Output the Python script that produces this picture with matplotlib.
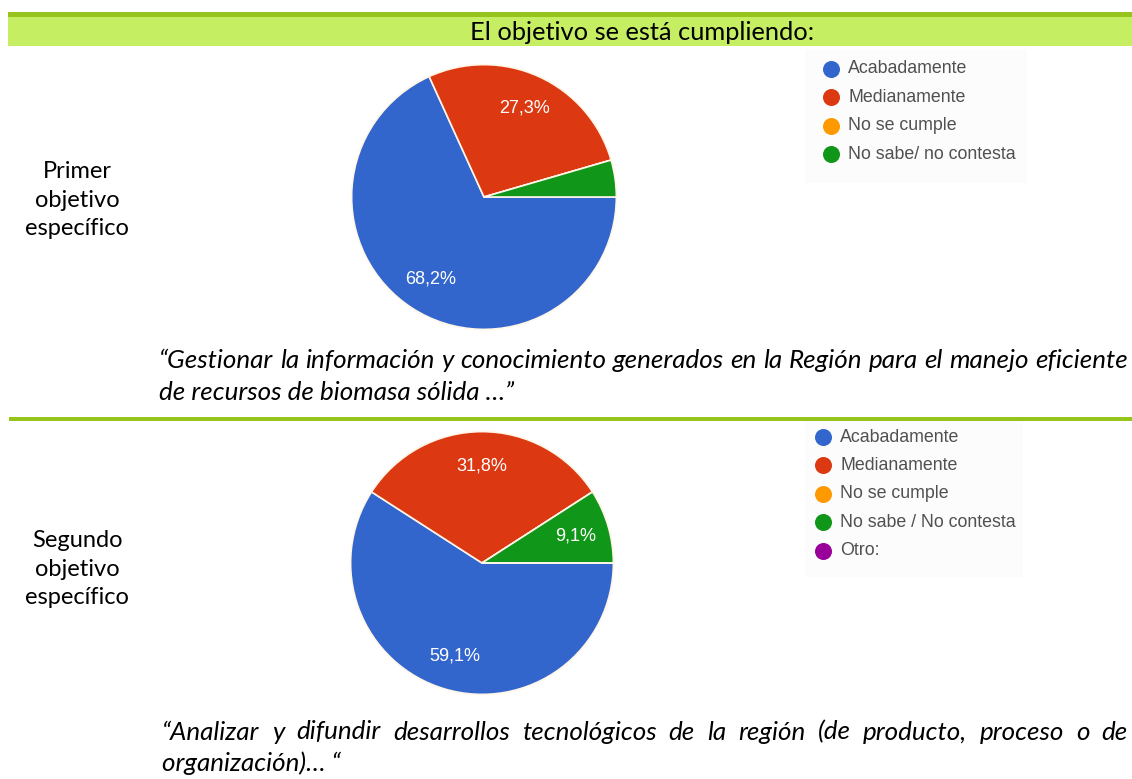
import matplotlib
matplotlib.use("Agg")
import matplotlib.pyplot as plt
from matplotlib.patches import Rectangle

# ---------------- data ----------------
header_text = "El objetivo se está cumpliendo:"
row_labels = ["Primer\nobjetivo\nespecífico", "Segundo\nobjetivo\nespecífico"]

legend1 = ["Acabadamente", "Medianamente", "No se cumple", "No sabe/ no contesta"]
values1 = [68.2, 27.3, 0.0, 4.5]
legend2 = ["Acabadamente", "Medianamente", "No se cumple", "No sabe / No contesta", "Otro:"]
values2 = [59.1, 31.8, 0.0, 9.1, 0.0]

caption1 = ["“Gestionar la información y conocimiento generados en la Región para el manejo eficiente",
            "de recursos de biomasa sólida …”"]
caption2 = ["“Analizar y difundir desarrollos tecnológicos de la región (de producto, proceso o de",
            "organización)… “"]

colors = ["#3366cc", "#dc3912", "#ff9900", "#109618", "#990099"]

W, H = 1132, 779
fig = plt.figure(figsize=(W / 100, H / 100), dpi=100)
fig.patch.set_facecolor("white")

ov = fig.add_axes([0, 0, 1, 1])
ov.set_xlim(0, W)
ov.set_ylim(H, 0)
ov.axis("off")

body_font = "Lato"
leg_font = "Liberation Sans"

fig.canvas.draw()
renderer = fig.canvas.get_renderer()

def fit_size(s, target_w, base=16, **kw):
    t = ov.text(0, 0, s, fontsize=base, **kw)
    w = t.get_window_extent(renderer).width
    t.remove()
    return base * target_w / w

# header
ov.add_patch(Rectangle((8, 12), W - 8, 4.5, color="#97c41c", lw=0))
ov.add_patch(Rectangle((8, 16.5), W - 8, 29.5, color="#c6ee63", lw=0))
hs = fit_size(header_text, 345, family=body_font)
ov.text(642, 32, header_text, ha="center", va="center", fontsize=hs,
        family=body_font, color="black")

# separator line
ov.add_patch(Rectangle((9, 416.5), W - 9, 4, color="#97c41c", lw=0))

# row labels
ls = fit_size("específico", 104, family=body_font)
for lab, y in zip(row_labels, [200, 569]):
    ov.text(77, y, lab, ha="center", va="center", fontsize=ls, family=body_font,
            linespacing=1.45, color="black")

# legends
def draw_legend(labels, x_dot, y0, dy, box):
    ov.add_patch(Rectangle((box[0], box[1]), box[2] - box[0], box[3] - box[1],
                           color="#fcfcfc", lw=0, zorder=0))
    for i, lab in enumerate(labels):
        y = y0 + i * dy
        ov.scatter([x_dot], [y], s=150, color=colors[i], zorder=3, lw=0)
        ov.text(x_dot + 17, y, lab, ha="left", va="center", fontsize=12.8,
                family=leg_font, color="#505050", zorder=3)

draw_legend(legend1, 831, 68.5, 28.6, (805, 50, 1027, 183))
draw_legend(legend2, 823, 437, 28.4, (805, 421, 1023, 577))

# pies
def draw_pie(values, cx, cy, r):
    ax = fig.add_axes([(cx - r) / W, 1 - (cy + r) / H, 2 * r / W, 2 * r / H])
    ax.pie(values, colors=colors[:len(values)], startangle=0, counterclock=False,
           radius=1.0, pctdistance=0.74,
           autopct=lambda p: (f"{p:.1f}%".replace(".", ",") if p > 5 else ""),
           wedgeprops=dict(edgecolor="#fff6e8", linewidth=1.2),
           textprops=dict(color="white", fontsize=13, family=leg_font))
    ax.set_xlim(-1.02, 1.02)
    ax.set_ylim(-1.02, 1.02)
    ax.axis("off")
    return ax

draw_pie(values1, 484, 197, 135)
draw_pie(values2, 482, 563, 134)

# captions
cs = fit_size(caption1[0], 965, family=body_font, style="italic")

def justified(line, x0, x1, y):
    words = line.split(" ")
    objs = [ov.text(0, y, w, ha="left", va="center", fontsize=cs, family=body_font,
                    style="italic", color="black") for w in words]
    widths = [o.get_window_extent(renderer).width for o in objs]
    gap = (x1 - x0 - sum(widths)) / (len(words) - 1)
    x = x0
    for o, w in zip(objs, widths):
        o.set_x(x)
        x += w + gap

def plain(line, x0, y):
    ov.text(x0, y, line, ha="left", va="center", fontsize=cs, family=body_font,
            style="italic", color="black")

justified(caption1[0], 159, 1128, 360)
plain(caption1[1], 159, 392)
justified(caption2[0], 162, 1128, 732)
plain(caption2[1], 162, 763)

fig.savefig("out.png", dpi=100, facecolor="white")
